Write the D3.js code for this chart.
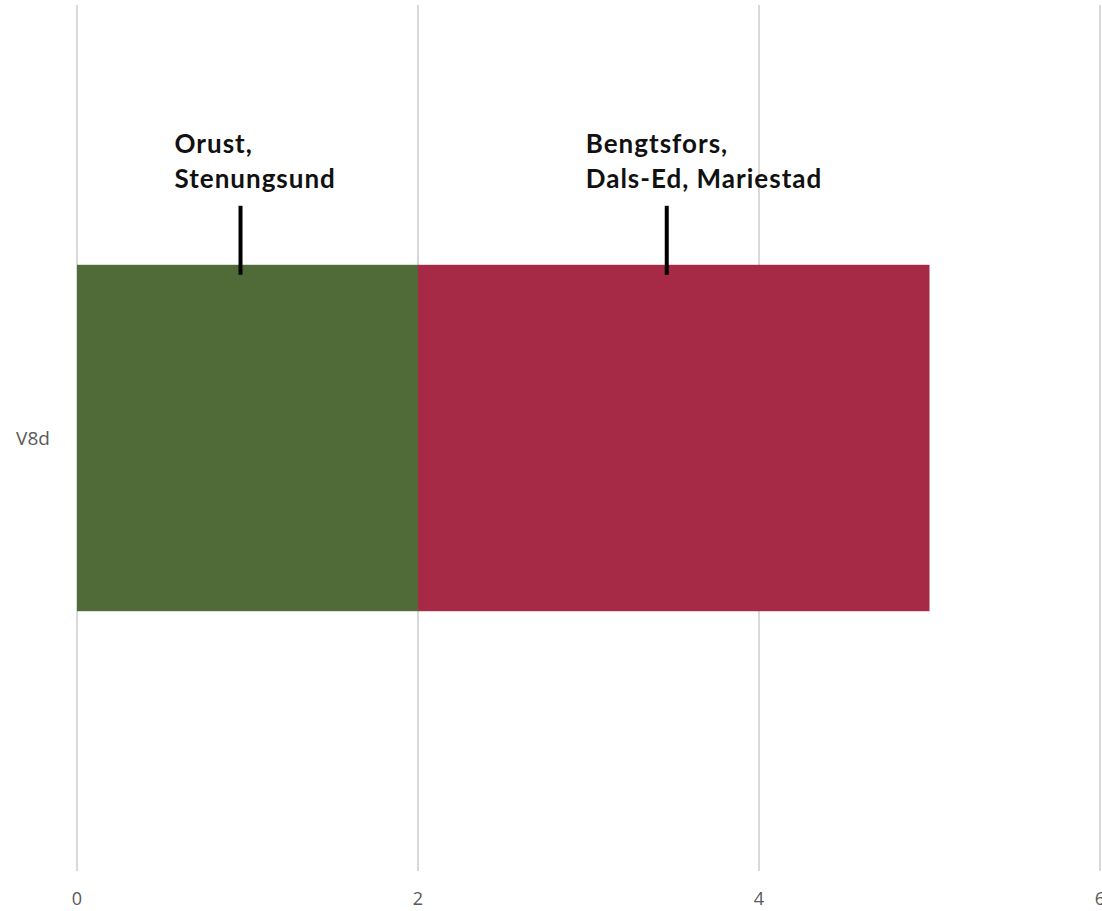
<!DOCTYPE html>
<html>
<head>
<meta charset="utf-8">
<script src="https://cdn.jsdelivr.net/npm/d3@7"></script>
<style>
  html, body { margin: 0; padding: 0; background: #fff; }
  svg { display: block; }
</style>
</head>
<body>
<svg id="chart" width="1102" height="911"></svg>
<script>
// ---- data ----
const categories = ["V8d"];
const seriesNames = ["Orust, Stenungsund", "Bengtsfors, Dals-Ed, Mariestad"];
const seriesValues = [2, 3];           // stacked segment lengths for V8d
const seriesColors = ["#506B37", "#A62A46"];
const labelLines = [["Orust,", "Stenungsund"], ["Bengtsfors,", "Dals-Ed, Mariestad"]];
const xTicks = [0, 2, 4, 6];

// ---- layout ----
const W = 1102, H = 911;
const margin = { left: 77, right: 2, top: 5, bottom: 40 };
const svg = d3.select("#chart");

const x = d3.scaleLinear().domain([0, 6]).range([margin.left, W - margin.right]);
const y = d3.scaleBand().domain(categories).range([margin.top, H - margin.bottom])
  .paddingInner(0.6).paddingOuter(0.3);

// gridlines
svg.append("g").selectAll("line").data(xTicks).join("line")
  .attr("x1", d => x(d)).attr("x2", d => x(d))
  .attr("y1", margin.top).attr("y2", H - margin.bottom)
  .attr("stroke", "#d9d9d9").attr("stroke-width", 2);

// x tick labels
svg.append("g").selectAll("text").data(xTicks).join("text")
  .attr("x", d => x(d)).attr("y", H - 6)
  .attr("text-anchor", "middle")
  .attr("font-family", "'Open Sans', sans-serif")
  .attr("font-size", 18)
  .attr("fill", "#595959")
  .text(d => d);

// y category label
svg.append("g").selectAll("text").data(categories).join("text")
  .attr("x", 33).attr("y", d => y(d) + y.bandwidth() / 2)
  .attr("dy", "0.35em")
  .attr("text-anchor", "middle")
  .attr("font-family", "'Open Sans', sans-serif")
  .attr("font-size", 19)
  .attr("fill", "#595959")
  .text(d => d);

// stacked segments
const segs = [];
let acc = 0;
seriesValues.forEach((v, i) => { segs.push({ i, x0: acc, x1: acc + v }); acc += v; });

const barTop = y(categories[0]);
svg.append("g").selectAll("rect").data(segs).join("rect")
  .attr("x", d => x(d.x0))
  .attr("width", d => x(d.x1) - x(d.x0))
  .attr("y", barTop)
  .attr("height", y.bandwidth())
  .attr("fill", d => seriesColors[d.i]);

// annotation leader lines (slightly left of segment centre, as in the reference)
const cxOf = d => x((d.x0 + d.x1) / 2) - 7;
svg.append("g").selectAll("line").data(segs).join("line")
  .attr("x1", cxOf)
  .attr("x2", cxOf)
  .attr("y1", barTop - 59).attr("y2", barTop + 10)
  .attr("stroke", "#000").attr("stroke-width", 4);

// annotation labels
const lab = svg.append("g").selectAll("text").data(segs).join("text")
  .attr("font-family", "Lato, 'Open Sans', sans-serif")
  .attr("font-weight", "bold")
  .attr("font-size", 26)
  .attr("letter-spacing", 1)
  .attr("fill", "#111");
lab.each(function(d) {
  const cx = cxOf(d);
  const off = d.i === 0 ? 66 : 81;
  const t = d3.select(this);
  labelLines[d.i].forEach((ln, k) => {
    t.append("tspan").attr("x", cx - off).attr("y", barTop - 112 + k * 35).text(ln);
  });
});
</script>
</body>
</html>
